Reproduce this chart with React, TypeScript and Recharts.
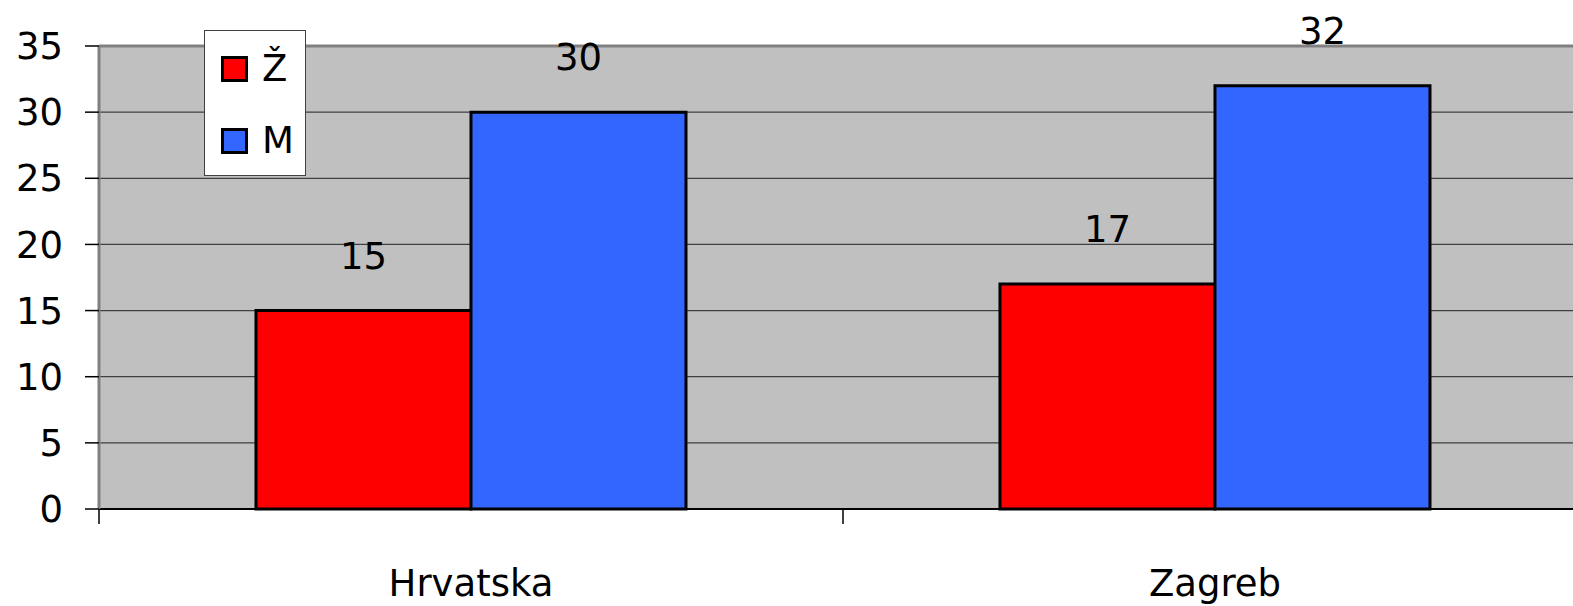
import {
  Bar,
  BarChart,
  CartesianGrid,
  LabelList,
  Legend,
  ReferenceLine,
  XAxis,
  YAxis,
} from "recharts";

// kategorije i vrijednosti (očitano sa slike)
const CATEGORIES = ["Hrvatska", "Zagreb"];
const ZENE = [15, 17];
const MUSKARCI = [30, 32];
const Y_TICKS = [0, 5, 10, 15, 20, 25, 30, 35];

const SERIES = [
  { key: "z", name: "Ž", color: "#FF0000" },
  { key: "m", name: "M", color: "#3366FF" },
];

const data = CATEGORIES.map((name, i) => ({ name, z: ZENE[i], m: MUSKARCI[i] }));

const FONT = '"Comic Sans MS", "DejaVu Sans", sans-serif';

const CHART_W = 1587;
const CHART_H = 606;
const LEFT = 99;
const HALF_BAND = (CHART_W - LEFT) / CATEGORIES.length / 2;

function XTick(props: any) {
  const { x, y, payload } = props;
  const half = payload?.offset || HALF_BAND;
  return (
    <g>
      <line x1={x - half} y1={y - 8} x2={x - half} y2={y + 7} stroke="#000" strokeWidth={1.5} />
      <text x={x} y={y + 79} textAnchor="middle" fontSize={37} fontFamily={FONT} fill="#000">
        {payload.value}
      </text>
    </g>
  );
}

function LegendBox() {
  return (
    <div
      style={{
        position: "relative",
        width: 100,
        height: 144,
        background: "#fff",
        border: "1px solid #404040",
        fontFamily: FONT,
        fontSize: 37,
      }}
    >
      {SERIES.map((s, i) => (
        <div
          key={s.key}
          style={{
            position: "absolute",
            left: 16,
            top: i === 0 ? 25 : 97,
            display: "flex",
            alignItems: "center",
            gap: 14,
          }}
        >
          <span
            style={{
              width: 21,
              height: 20,
              background: s.color,
              border: "3px solid #000",
              display: "inline-block",
            }}
          />
          <span style={{ lineHeight: "26px" }}>{s.name}</span>
        </div>
      ))}
    </div>
  );
}

export default function App() {
  return (
    <div
      style={{
        position: "fixed",
        left: 0,
        top: 0,
        width: 1573,
        height: CHART_H,
        overflow: "hidden",
        background: "#fff",
      }}
    >
      <BarChart
        width={CHART_W}
        height={CHART_H}
        data={data}
        margin={{ top: 46, right: 0, bottom: 0, left: 0 }}
        barCategoryGap="21.1%"
        barGap={0}
      >
        <CartesianGrid vertical={false} fill="#C0C0C0" stroke="#404040" strokeWidth={1.2} />
        <ReferenceLine y={35} stroke="#808080" strokeWidth={3} />
        <XAxis
          dataKey="name"
          height={97}
          tickLine={false}
          axisLine={{ stroke: "#000", strokeWidth: 2 }}
          tick={<XTick />}
          interval={0}
        />
        <YAxis
          width={LEFT}
          domain={[0, 35]}
          ticks={Y_TICKS}
          interval={0}
          tickSize={14}
          tickMargin={22}
          axisLine={{ stroke: "#808080", strokeWidth: 3 }}
          tickLine={{ stroke: "#000", strokeWidth: 1.5 }}
          tick={{ fontSize: 37, fill: "#000", fontFamily: FONT }}
        />
        <Legend
          verticalAlign="middle"
          align="center"
          layout="vertical"
          content={() => <LegendBox />}
          wrapperStyle={{ left: 204, top: 30, width: 102, height: 146 }}
        />
        {SERIES.map((s) => (
          <Bar
            key={s.key}
            dataKey={s.key}
            name={s.name}
            fill={s.color}
            stroke="#000"
            strokeWidth={3}
            isAnimationActive={false}
          >
            <LabelList
              dataKey={s.key}
              position="top"
              offset={42}
              style={{ fontSize: 37, fontFamily: FONT, fill: "#000" }}
            />
          </Bar>
        ))}
      </BarChart>
    </div>
  );
}
